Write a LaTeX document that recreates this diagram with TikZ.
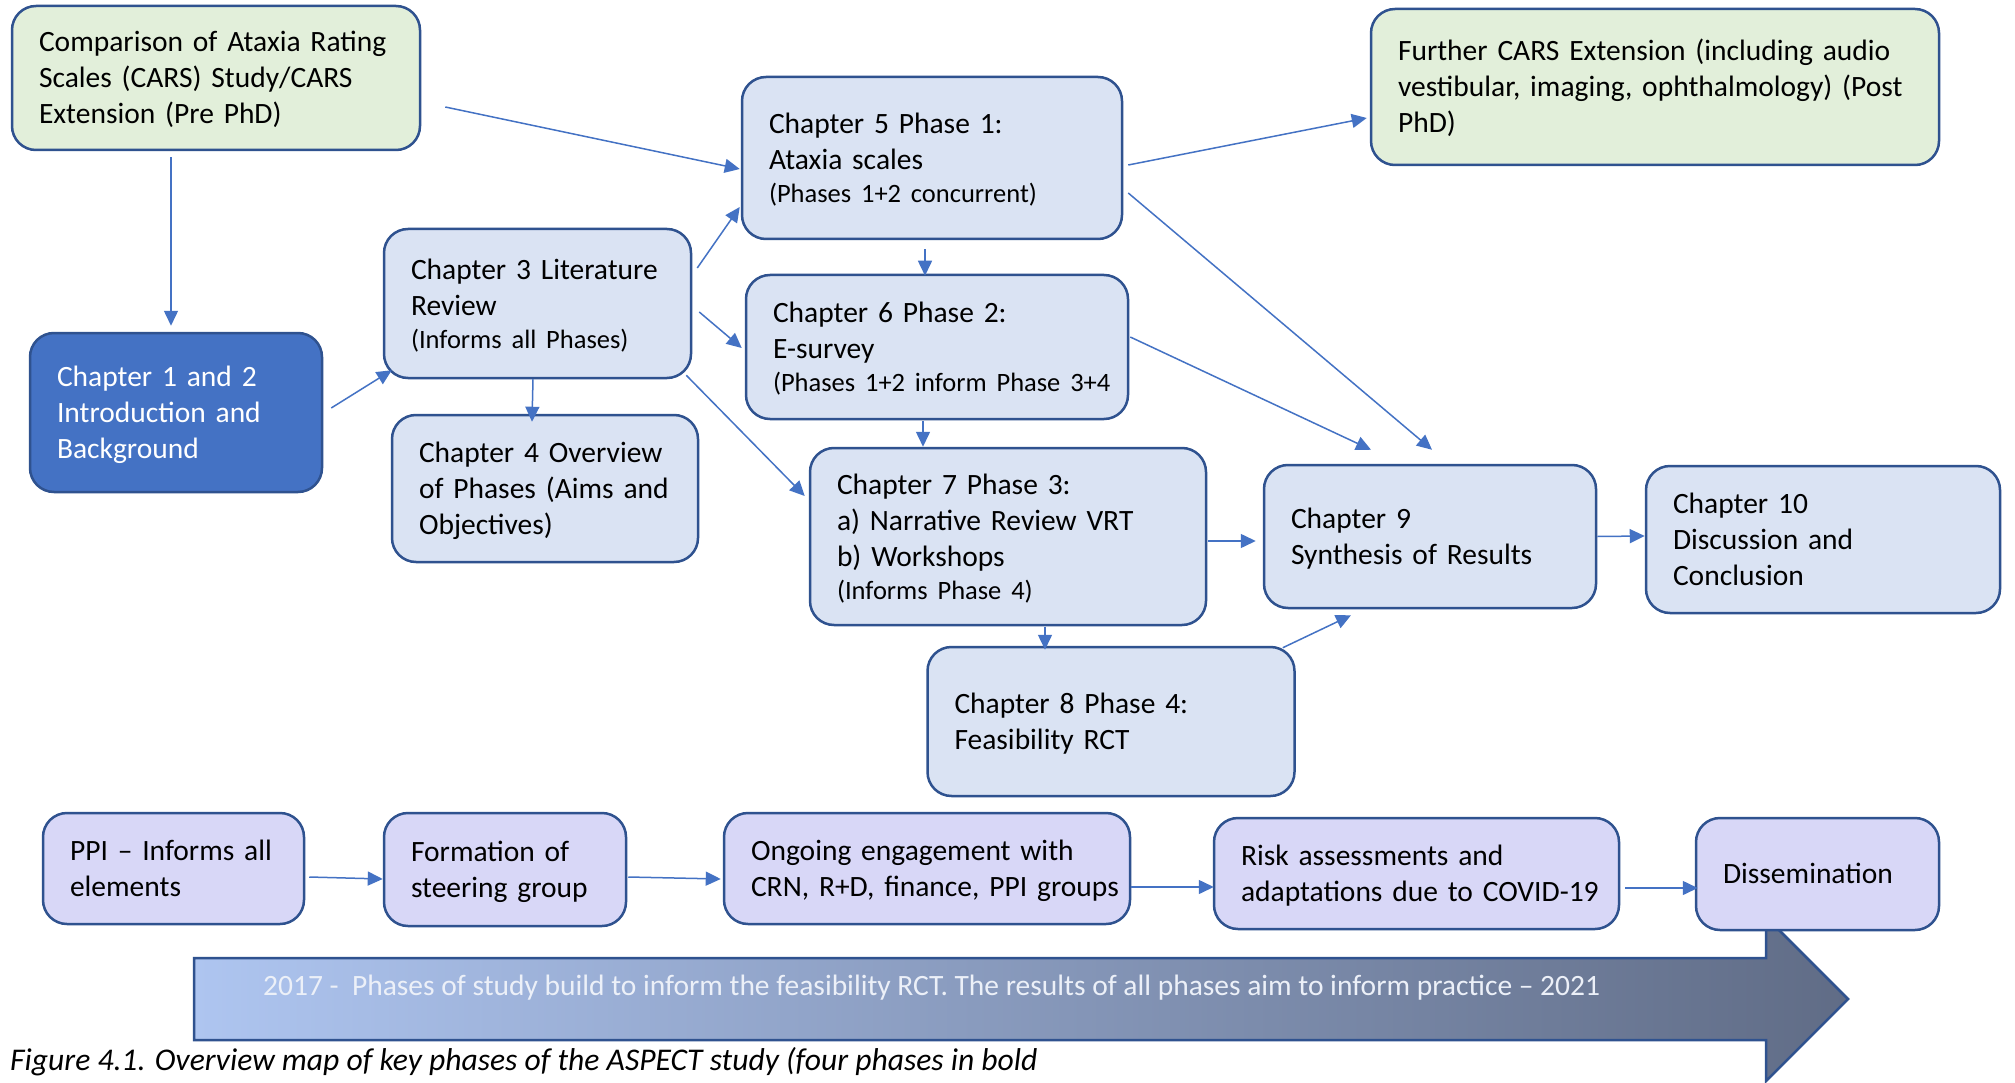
\documentclass[tikz,border=0pt]{standalone}
\usepackage{fontspec}
\setmainfont{Carlito}
\usetikzlibrary{arrows.meta}

\definecolor{edgeblue}{RGB}{47,82,143}
\definecolor{linkblue}{RGB}{68,114,196}
\definecolor{paleblue}{RGB}{218,227,243}
\definecolor{palegreen}{RGB}{226,239,218}
\definecolor{lavender}{RGB}{216,215,247}
\definecolor{leadblue}{RGB}{68,114,196}
\definecolor{bandleft}{RGB}{174,197,240}
\definecolor{bandright}{RGB}{96,108,134}
\definecolor{bandtext}{RGB}{236,240,248}

\newcommand\mainsize{\fontsize{29.5}{36}\selectfont}
\newcommand\noteline{\fontsize{26.5}{33}\selectfont}
% taller opening strut: sets the first line a little lower in its box
\newcommand\topline{\rule{0pt}{30.5pt}}

\begin{document}
\begin{tikzpicture}[x=1pt,y=-1pt,
  box/.style={draw=edgeblue, line width=2.5pt, rounded corners=24pt,
    align=left, inner xsep=27pt, inner ysep=0pt, font=\mainsize},
  dims/.style n args={3}{minimum width=#1pt, minimum height=#2pt, text width=#3pt},
  greenbox/.style={box, fill=palegreen},
  chapbox/.style={box, fill=paleblue},
  leadbox/.style={box, fill=leadblue, text=white},
  ppibox/.style={box, fill=lavender},
  link/.style={draw=linkblue, line width=1.5pt, -{Triangle[length=15pt,width=14pt]}}
]
\fill[white] (0,0) rectangle (2015,1083);
\useasboundingbox (0,0) rectangle (2015,1083);

% timeline band along the bottom
\path[draw=edgeblue, line width=2.5pt, left color=bandleft, right color=bandright]
  (194,958) -- (1766,958) -- (1766,917) -- (1848,999) -- (1766,1081)
  -- (1766,1040) -- (194,1040) -- cycle;
\node[anchor=west, text=bandtext, font=\mainsize, inner sep=0pt] (bandlabel) at (263,988)
  {2017 -~~Phases of study build to inform the feasibility RCT. The results of all phases aim to inform practice -- 2021};

\node[anchor=west, font=\itshape\fontsize{31.6}{38}\selectfont, inner sep=0pt] (caption) at (10,1062)
  {Figure 4.1. Overview map of key phases of the ASPECT study (four phases in bold};

% study chapters
\node[greenbox, dims={408}{144}{354}] (A) at (216,78)
  {\topline\mbox{Comparison of Ataxia Rating}\\\mbox{Scales (CARS) Study/CARS}\\\mbox{Extension (Pre PhD)}\strut};
\node[leadbox, dims={292}{159}{238}] (B) at (176,412.5)
  {\topline\mbox{Chapter 1 and 2}\\\mbox{Introduction and}\\\mbox{Background}\strut};
\node[chapbox, dims={307}{149}{253}] (C) at (537.5,303.5)
  {\topline\mbox{Chapter 3 Literature}\\\mbox{Review}\\[-3pt]\noteline\mbox{(Informs all Phases)}\strut};
\node[chapbox, dims={306}{147}{252}] (D) at (545,488.5)
  {\topline\mbox{Chapter 4 Overview}\\\mbox{of Phases (Aims and}\\\mbox{Objectives)}\strut};
\node[chapbox, dims={380}{162}{326}] (E) at (932,158)
  {\topline\mbox{Chapter 5 Phase 1:}\\\mbox{Ataxia scales}\\[-3pt]\noteline\mbox{(Phases 1+2 concurrent)}\strut};
\node[greenbox, dims={568}{156}{514}] (F) at (1655,87)
  {\topline\mbox{Further CARS Extension (including audio}\\\mbox{vestibular, imaging, ophthalmology) (Post}\\\mbox{PhD)}\strut};
\node[chapbox, dims={382}{144}{328}] (G) at (937,347)
  {\topline\mbox{Chapter 6 Phase 2:}\\\mbox{E-survey}\\[-3pt]\noteline\mbox{(Phases 1+2 inform Phase 3+4}\strut};
\node[chapbox, dims={396}{177}{342}] (H) at (1008,536.5)
  {\topline\mbox{Chapter 7 Phase 3:}\\\mbox{a) Narrative Review VRT}\\\mbox{b) Workshops}\\[-3pt]\noteline\mbox{(Informs Phase 4)}\strut};
\node[chapbox, dims={332}{143}{278}] (I) at (1430,536.5)
  {\topline\mbox{Chapter 9}\\\mbox{Synthesis of Results}\strut};
\node[chapbox, dims={354}{147}{300}] (J) at (1823,539.5)
  {\topline\mbox{Chapter 10}\\\mbox{Discussion and}\\\mbox{Conclusion}\strut};
\node[chapbox, dims={367}{149}{313}] (K) at (1111,721.5)
  {\topline\mbox{Chapter 8 Phase 4:}\\\mbox{Feasibility RCT}\strut};

% public involvement row
\node[ppibox, dims={261}{111}{207}] (L) at (173.5,868.5)
  {\topline\mbox{PPI -- Informs all}\\\mbox{elements}\strut};
\node[ppibox, dims={242}{113}{188}] (M) at (505,869.5)
  {\topline\mbox{Formation of}\\\mbox{steering group}\strut};
\node[ppibox, dims={406}{111}{352}] (N) at (927,868.5)
  {\topline\mbox{Ongoing engagement with}\\\mbox{CRN, R+D, finance, PPI groups}\strut};
\node[ppibox, dims={405}{111}{351}] (O) at (1416.5,873.5)
  {\topline\mbox{Risk assessments and}\\\mbox{adaptations due to COVID-19}\strut};
\node[ppibox, dims={243}{112}{189}] (P) at (1817.5,874)
  {\topline\mbox{Dissemination}\strut};

% connectors
\draw[link] ([shift={(-45,6)}]A.south) -- ([shift={(-5,-6)}]B.north);
\draw[link] ([shift={(24,29)}]A.east) -- ([shift={(-1,11)}]E.west);
\draw[link] ([shift={(8,-4.5)}]B.east) -- ([shift={(9,-9)}]C.south west);
\draw[link] ([shift={(5,-35.5)}]C.east) -- ([shift={(-1,49)}]E.west);
\draw[link] ([shift={(7,8.5)}]C.east) -- ([shift={(-3,1)}]G.west);
\draw[link] ([shift={(-4.5,0)}]C.south) -- ([shift={(-13,8)}]D.north);
\draw[link] ([shift={(-6,-4)}]C.south east) -- ([shift={(-4,-40.5)}]H.west);
\draw[link] ([shift={(-7,9)}]E.south) -- ([shift={(-12,2)}]G.north);
\draw[link] ([shift={(5,7)}]E.east) -- ([shift={(-3,31)}]F.west);
\draw[link] ([shift={(5,35)}]E.east) -- ([shift={(2,-14)}]I.north);
\draw[link] ([shift={(1,-10)}]G.east) -- ([shift={(-59,-14)}]I.north);
\draw[link] ([shift={(-14,1)}]G.south) -- ([shift={(-85,0)}]H.north);
\draw[link] ([shift={(1,4.5)}]H.east) -- ([shift={(-7,4.5)}]I.west);
\draw[link] (I.east) -- ([shift={(0,-3.5)}]J.west);
\draw[link] ([shift={(37,1)}]H.south) -- ([shift={(-66,4)}]K.north);
\draw[link] ([shift={(-13,2)}]K.north east) -- ([shift={(-79,6)}]I.south);
\draw[link] ([shift={(4,8.5)}]L.east) -- ([shift={(0,9.5)}]M.west);
\draw[link] ([shift={(1,7.5)}]M.east) -- ([shift={(-2,10.5)}]N.west);
\draw[link] ([shift={(0,18.5)}]N.east) -- ([shift={(1,13.5)}]O.west);
\draw[link] ([shift={(5,14.5)}]O.east) -- ([shift={(3,14)}]P.west);
\end{tikzpicture}
\end{document}
